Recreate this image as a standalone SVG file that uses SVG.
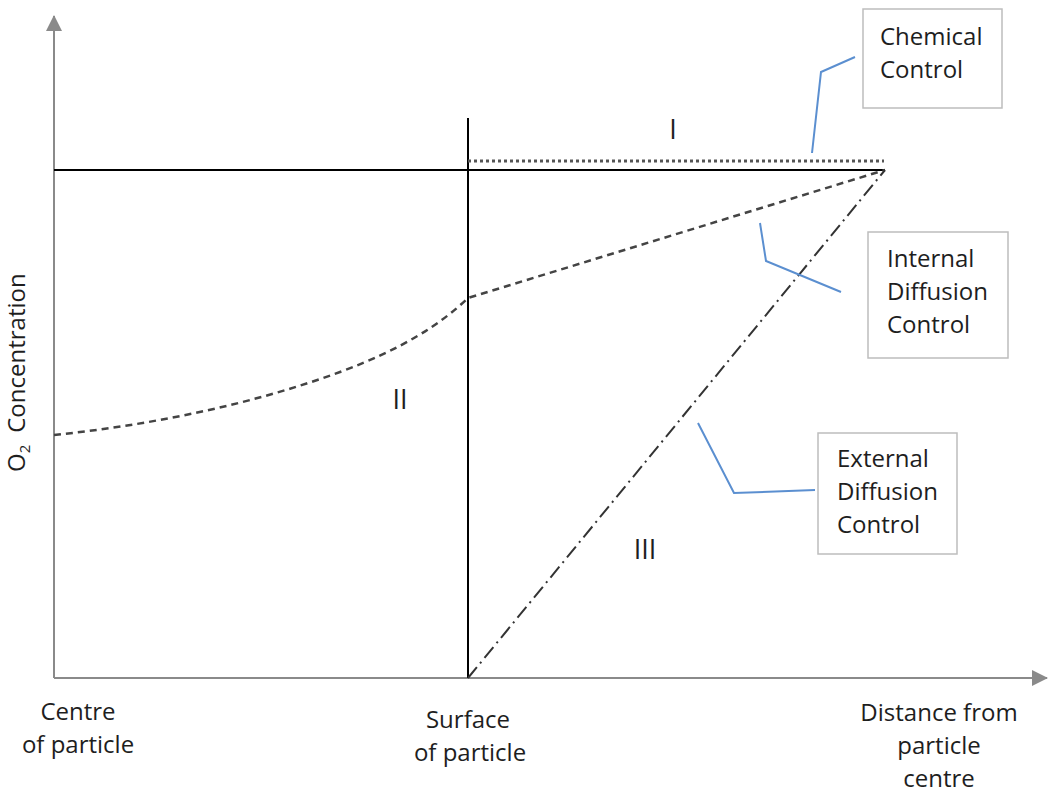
<svg xmlns="http://www.w3.org/2000/svg" width="1049" height="793" viewBox="0 0 1049 793">
<style>
text{font-family:"Open Sans","Liberation Sans",sans-serif;font-size:24px;fill:#1e1e1e}
.region{font-size:27px}
.axis{stroke:#8a8a8a;stroke-width:2;fill:none}
.solid{stroke:#000;stroke-width:2;fill:none}
.dotted{stroke:#555;stroke-width:3;stroke-dasharray:3 3;fill:none}
.dashed{stroke:#444;stroke-width:2.5;stroke-dasharray:7 5;fill:none}
.dashdot{stroke:#333;stroke-width:2;stroke-dasharray:14 5 2 5;fill:none}
.callout{stroke:#5b8fd0;stroke-width:2;fill:none}
.box{fill:#fff;stroke:#bdbdbd;stroke-width:1.5}
.mid{text-anchor:middle}
</style>
<defs>
<marker id="arr" markerUnits="userSpaceOnUse" markerWidth="16" markerHeight="16" refX="15" refY="8" orient="auto">
<path d="M0,0 L16,8 L0,16 z" fill="#8a8a8a"/>
</marker>
</defs>
<g id="axes">
<line class="axis" x1="54" y1="678" x2="54" y2="16" marker-end="url(#arr)"/>
<line class="axis" x1="54" y1="678" x2="1047" y2="678" marker-end="url(#arr)"/>
<text transform="translate(25,472) rotate(-90)">O<tspan font-size="15" dy="5">2</tspan><tspan dy="-5" dx="12">Concentration</tspan></text>
</g>
<g id="connectors">
<line class="solid" x1="468" y1="118" x2="468" y2="678"/>
<line class="solid" x1="54" y1="170" x2="885" y2="170"/>
<line class="dotted" x1="468" y1="161" x2="884" y2="161"/>
<path class="dashed" d="M54,435 C150,425 250,405 340,372 C400,350 440,325 468,298 L885,170"/>
<line class="dashdot" x1="468" y1="678" x2="885" y2="170"/>
<polyline class="callout" points="855,57 821,72 812,153"/>
<polyline class="callout" points="760,223 766,261 841,292"/>
<polyline class="callout" points="698,423 734,493 815,490"/>
</g>
<g id="region-I"><text x="673" y="139" class="mid region">I</text></g>
<g id="region-II"><text x="400" y="409" class="mid region">II</text></g>
<g id="region-III"><text x="645" y="559" class="mid region">III</text></g>
<g id="chemical-control">
<rect class="box" x="863" y="9" width="139" height="99"/>
<text x="880" y="45">Chemical</text>
<text x="880" y="78">Control</text>
</g>
<g id="internal-diffusion-control">
<rect class="box" x="868" y="232" width="140" height="126"/>
<text x="887" y="267">Internal</text>
<text x="887" y="300">Diffusion</text>
<text x="887" y="333">Control</text>
</g>
<g id="external-diffusion-control">
<rect class="box" x="818" y="433" width="139" height="121"/>
<text x="837" y="467">External</text>
<text x="837" y="500">Diffusion</text>
<text x="837" y="533">Control</text>
</g>
<g id="label-centre">
<text x="78" y="720" class="mid">Centre</text>
<text x="78" y="753" class="mid">of particle</text>
</g>
<g id="label-surface">
<text x="468" y="728" class="mid">Surface</text>
<text x="470" y="761" class="mid">of particle</text>
</g>
<g id="label-distance">
<text x="939" y="721" class="mid">Distance from</text>
<text x="939" y="754" class="mid">particle</text>
<text x="939" y="787" class="mid">centre</text>
</g>
</svg>
